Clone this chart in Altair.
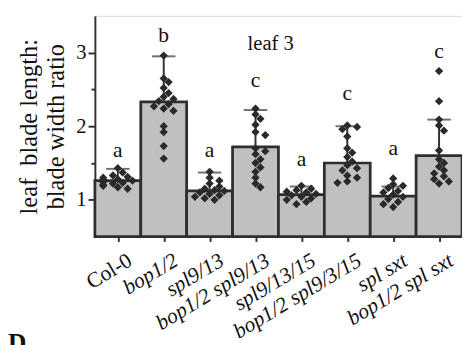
import json
import altair as alt
import pandas as pd

# ---------------- data ----------------
genotypes = ["Col-0", "bop1/2", "spl9/13", "bop1/2 spl9/13", "spl9/13/15",
             "bop1/2 spl9/3/15", "spl sxt", "bop1/2 spl sxt"]
means = [1.26, 2.33, 1.12, 1.72, 1.07, 1.50, 1.05, 1.60]
sds = [0.16, 0.62, 0.25, 0.50, 0.11, 0.50, 0.13, 0.49]
letters = ["a", "b", "a", "c", "a", "c", "a", "c"]
letter_y = [1.58, 3.15, 1.58, 2.53, 1.46, 2.35, 1.61, 2.93]

pts_col0 = [1.43, 1.37, 1.33, 1.31, 1.30, 1.28, 1.27, 1.26, 1.25, 1.24, 1.23, 1.22, 1.20, 1.19, 1.17, 1.15]
pts_bop = [2.96, 2.65, 2.60, 2.52, 2.45, 2.40, 2.37, 2.34, 2.30, 2.27, 2.24, 2.21, 2.00, 1.92, 1.73, 1.56]
pts_spl913 = [1.38, 1.30, 1.26, 1.22, 1.18, 1.15, 1.13, 1.12, 1.10, 1.08, 1.06, 1.04, 1.02, 1.00]
pts_bop_spl913 = [2.24, 2.16, 2.10, 2.02, 1.92, 1.88, 1.70, 1.66, 1.62, 1.55, 1.50, 1.44, 1.38, 1.30, 1.22, 1.17]
pts_spl91315 = [1.19, 1.15, 1.13, 1.11, 1.10, 1.08, 1.06, 1.04, 1.02, 1.00, 0.97, 0.94]
pts_bop_spl9315 = [2.01, 1.99, 1.96, 1.86, 1.70, 1.64, 1.58, 1.52, 1.47, 1.43, 1.40, 1.33, 1.30, 1.25, 1.23]
pts_splsxt = [1.29, 1.21, 1.19, 1.16, 1.12, 1.10, 1.07, 1.04, 1.01, 0.97, 0.94, 0.90]
pts_bop_splsxt = [2.75, 2.34, 2.09, 2.01, 1.94, 1.67, 1.55, 1.50, 1.45, 1.40, 1.36, 1.32, 1.28, 1.25, 1.22]
points = [pts_col0, pts_bop, pts_spl913, pts_bop_spl913, pts_spl91315,
          pts_bop_spl9315, pts_splsxt, pts_bop_splsxt]

Y_MIN, Y_MAX = 0.5, 3.5
W, H = 376, 226
N = len(genotypes)
PX_PER_UNIT_Y = H / (Y_MAX - Y_MIN)
PX_PER_BAR = W / N


def swarm(values, step=5.0, min_dist=6.0):
    """Greedy beeswarm layout: horizontal offsets (in bar units) so diamonds barely overlap."""
    placed = []
    offs = []
    for v in values:
        cands = [0.0]
        for k in range(1, 4):
            cands += [k * step, -k * step]
        chosen = cands[-1]
        for c in cands:
            ok = True
            for (pv, po) in placed:
                dy = (v - pv) * PX_PER_UNIT_Y
                dx = c - po
                if (dx * dx + dy * dy) ** 0.5 < min_dist:
                    ok = False
                    break
            if ok:
                chosen = c
                break
        placed.append((v, chosen))
        offs.append(chosen)
    return [o / PX_PER_BAR for o in offs]


idx = list(range(N))
bars = pd.DataFrame({
    "genotype": genotypes,
    "i": idx,
    "x0": [i - 0.5 for i in idx],
    "x1": [i + 0.5 for i in idx],
    "mean": means,
    "top": [m + s for m, s in zip(means, sds)],
    "letter": letters,
    "ly": letter_y,
})

rows = []
for i, (g, vals) in enumerate(zip(genotypes, points)):
    for v, o in zip(vals, swarm(vals)):
        rows.append({"genotype": g, "value": v, "xp": i + o})
pts = pd.DataFrame(rows)

FONT = "Liberation Serif"
DARK = "#333333"
TXT = "#111111"

xscale = alt.Scale(domain=[-0.5, N - 0.5], nice=False, zero=False)
yscale = alt.Scale(domain=[Y_MIN, Y_MAX], nice=False, zero=False)

x_axis = alt.Axis(
    title=None, values=idx,
    labelExpr=json.dumps(genotypes) + "[datum.value]",
    labelFontStyle={"condition": {"test": "datum.value === 0", "value": "normal"},
                    "value": "italic"},
)
y_axis = alt.Axis(
    title=["leaf\u00a0 blade length:", "blade width ratio"],
    values=[1, 1.5, 2, 2.5, 3],
    labelExpr="datum.value % 1 === 0 ? '' + datum.value : ''",
    tickSize={"condition": {"test": "datum.value % 1 === 0", "value": 7}, "value": 4},
)

base = alt.Chart(bars)

bar_layer = base.mark_rect(fill="#c0c0c0", stroke="#2e2e2e", strokeWidth=2.8).encode(
    x=alt.X("x0:Q", scale=xscale, axis=x_axis), x2="x1:Q",
    y=alt.Y("mean:Q", scale=yscale, axis=y_axis), y2=alt.Y2(datum=Y_MIN))

err_layer = base.mark_rule(color=DARK, strokeWidth=2).encode(
    x=alt.X("i:Q", scale=xscale, axis=x_axis),
    y=alt.Y("mean:Q", scale=yscale, axis=y_axis), y2="top:Q")

cap_layer = base.mark_tick(color=DARK, size=24, thickness=2, orient="horizontal").encode(
    x=alt.X("i:Q", scale=xscale, axis=x_axis),
    y=alt.Y("top:Q", scale=yscale, axis=y_axis))

pt_layer = alt.Chart(pts).mark_point(shape="diamond", filled=True, color="#2a2a2a",
                                     size=72, opacity=1).encode(
    x=alt.X("xp:Q", scale=xscale, axis=x_axis),
    y=alt.Y("value:Q", scale=yscale, axis=y_axis),
)

letter_layer = base.mark_text(font=FONT, fontSize=22, color=TXT,
                              baseline="alphabetic").encode(
    x=alt.X("i:Q", scale=xscale, axis=x_axis),
    y=alt.Y("ly:Q", scale=yscale, axis=y_axis), text="letter:N")

leaf_text = alt.Chart(pd.DataFrame({"t": ["leaf 3"]})).mark_text(
    font=FONT, fontSize=21, color=TXT, baseline="alphabetic", align="center").encode(
    x=alt.value(180), y=alt.value(35), text="t:N")

d_text = alt.Chart(pd.DataFrame({"t": ["D"]})).mark_text(
    font=FONT, fontSize=26, fontWeight="bold", color=TXT, baseline="top", align="left").encode(
    x=alt.value(-89), y=alt.value(322), text="t:N")

chart = alt.layer(bar_layer, err_layer, cap_layer, pt_layer, letter_layer, leaf_text, d_text).properties(
    width=W, height=H,
    autosize=alt.AutoSizeParams(type="none"),
    padding={"left": 89, "top": 4, "right": 0, "bottom": 107},
).configure_view(stroke=None).configure(background="white").configure_axis(
    labelFont=FONT, labelColor=TXT, titleFont=FONT, titleColor=TXT,
    titleFontWeight="normal", grid=False, tickColor=DARK, tickWidth=2,
    domainColor=DARK, domainWidth=2, zindex=1, labelOverlap=False, labelLimit=0,
).configure_axisX(
    labelAngle=-31, labelAlign="right", labelBaseline="middle",
    labelOffset=12, labelPadding=17, labelFontSize=22, tickSize=5,
).configure_axisY(
    labelFontSize=21, labelPadding=2, titleFontSize=25, titleLineHeight=27, titlePadding=8,
)

chart.save("out.html", embed_options={"renderer": "svg", "actions": False})
